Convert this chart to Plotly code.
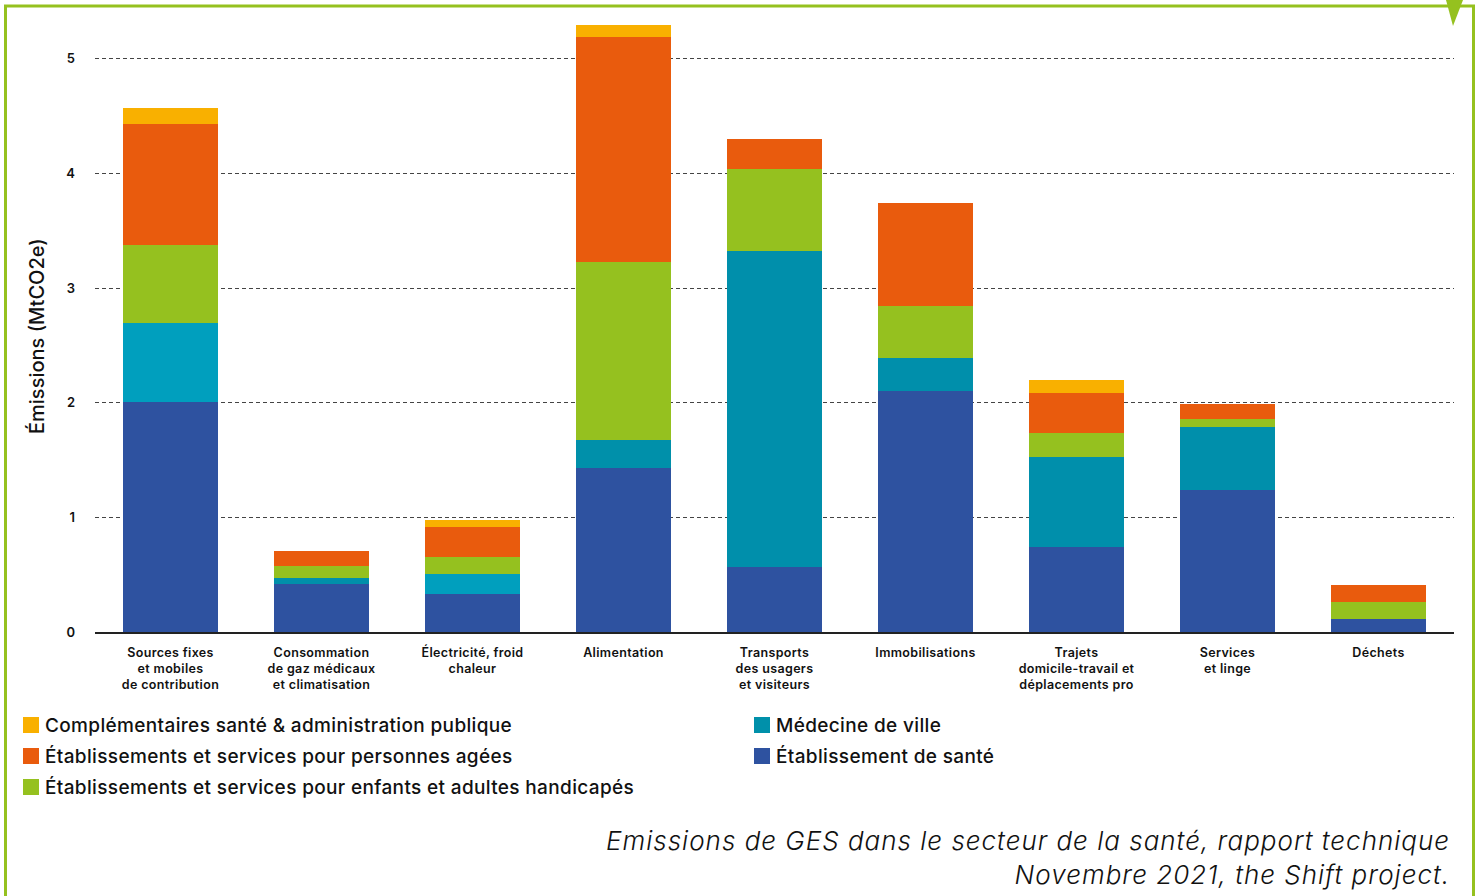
import plotly.graph_objects as go

# Categories (x axis) and stacked series, in MtCO2e
categories = [
    "Sources fixes<br>et mobiles<br>de contribution",
    "Consommation<br>de gaz médicaux<br>et climatisation",
    "Électricité, froid<br>chaleur",
    "Alimentation",
    "Transports<br>des usagers<br>et visiteurs",
    "Immobilisations",
    "Trajets<br>domicile-travail et<br>déplacements pro",
    "Services<br>et linge",
    "Déchets",
]

etablissement_sante = [2.01, 0.42, 0.33, 1.43, 0.57, 2.10, 0.74, 1.24, 0.11]
medecine_ville      = [0.69, 0.05, 0.18, 0.245, 2.75, 0.29, 0.785, 0.55, 0.0]
handicapes          = [0.68, 0.11, 0.145, 1.555, 0.715, 0.455, 0.21, 0.065, 0.15]
personnes_agees     = [1.05, 0.13, 0.26, 1.96, 0.27, 0.90, 0.35, 0.135, 0.15]
complementaires     = [0.14, 0.0, 0.06, 0.105, 0.0, 0.0, 0.115, 0.0, 0.0]

y_ticks = [0, 1, 2, 3, 4, 5]

series = [
    ("Établissement de santé", etablissement_sante, "#2E52A0"),
    ("Médecine de ville", medecine_ville,
     ["#009FBE", "#0090AA", "#009FBE", "#0090AA", "#008FAB",
      "#008FAB", "#008FAB", "#008FAB", "#008FAB"]),
    ("Établissements et services pour enfants et adultes handicapés", handicapes, "#95C11F"),
    ("Établissements et services pour personnes agées", personnes_agees, "#E95B0D"),
    ("Complémentaires santé & administration publique", complementaires, "#F9B000"),
]

W, H = 1478, 896
ML, MR, MT, MB = 95, 24, 13, 264
PW, PH = W - ML - MR, H - MT - MB
FONT = "Inter"


def px(x):
    return (x - ML) / PW


def py(y):
    return (H - MB - y) / PH


def spaced(text, spacing):
    return f"<span style='letter-spacing:{spacing}px'>{text}</span>"


fig = go.Figure()
for name, vals, color in series:
    fig.add_trace(go.Bar(
        x=categories, y=vals, name=name,
        marker=dict(color=color, line=dict(width=0)),
        showlegend=False,
    ))

shapes = []
annotations = []

# Frame: green border open at the bottom, with a small triangle marker
shapes.append(dict(
    type="path", xref="paper", yref="paper",
    path=f"M {px(5.5)},{py(H)} L {px(5.5)},{py(6)} L {px(1473.5)},{py(6)} L {px(1473.5)},{py(H)}",
    line=dict(color="#95C11F", width=3), layer="above",
))
shapes.append(dict(
    type="path", xref="paper", yref="paper",
    path=f"M {px(1446)},{py(0)} L {px(1463)},{py(0)} L {px(1453)},{py(26)} Z",
    fillcolor="#95C11F", line=dict(width=0),
))

# Legend drawn as two columns of swatches and labels
legend_items = [
    ("Complémentaires santé & administration publique", "#F9B000", 23, 725),
    ("Établissements et services pour personnes agées", "#E95B0D", 23, 756),
    ("Établissements et services pour enfants et adultes handicapés", "#95C11F", 23, 787),
    ("Médecine de ville", "#0090AA", 754, 725),
    ("Établissement de santé", "#2E52A0", 754, 756),
]
for label, color, x0, yc in legend_items:
    shapes.append(dict(
        type="rect", xref="paper", yref="paper",
        x0=px(x0), x1=px(x0 + 16), y0=py(yc - 8), y1=py(yc + 8),
        fillcolor=color, line=dict(width=0),
    ))
    annotations.append(dict(
        text=spaced(label, 0.35), xref="paper", yref="paper",
        x=px(x0 + 20), y=py(yc), xanchor="left", yanchor="middle",
        showarrow=False, font=dict(family=FONT, size=19, color="#111111", weight=500),
    ))

# Y axis title
annotations.append(dict(
    text="Émissions (MtCO2e)", xref="paper", yref="paper",
    x=px(37), y=py(336), xanchor="center", yanchor="middle", textangle=-90,
    showarrow=False, font=dict(family=FONT, size=20, color="#111111", weight=500),
))

# Source caption
annotations.append(dict(
    text="<i>" + spaced("Emissions de GES dans le secteur de la santé, rapport technique", 1)
         + "<br>" + spaced("Novembre 2021, the Shift project.", 1) + "</i>",
    xref="paper", yref="paper", x=px(1452), y=py(857),
    xanchor="right", yanchor="middle", align="right", showarrow=False,
    font=dict(family=FONT, size=26, color="#111111", weight=300),
))

fig.update_layout(
    barmode="stack",
    bargap=0.377,
    width=W, height=H,
    margin=dict(l=ML, r=MR, t=MT, b=MB),
    paper_bgcolor="white", plot_bgcolor="white",
    shapes=shapes, annotations=annotations,
    showlegend=False,
    xaxis=dict(
        showgrid=False, showline=True, linecolor="#222222", linewidth=1.5,
        ticks="", tickmode="array", tickvals=categories,
        ticktext=[spaced(c, 0.35) for c in categories],
        tickfont=dict(family=FONT, size=12.5, color="#111111", weight=600),
        ticklabelstandoff=8,
    ),
    yaxis=dict(
        range=[0, 5.4], tickvals=y_ticks, ticktext=[str(v) for v in y_ticks],
        showgrid=True, gridcolor="#444444", gridwidth=1, griddash="4px,3px",
        zeroline=False, showline=False, ticks="",
        tickfont=dict(family=FONT, size=13, color="#111111", weight=600),
        ticklabelstandoff=19,
    ),
)

fig.write_html("out.html")
